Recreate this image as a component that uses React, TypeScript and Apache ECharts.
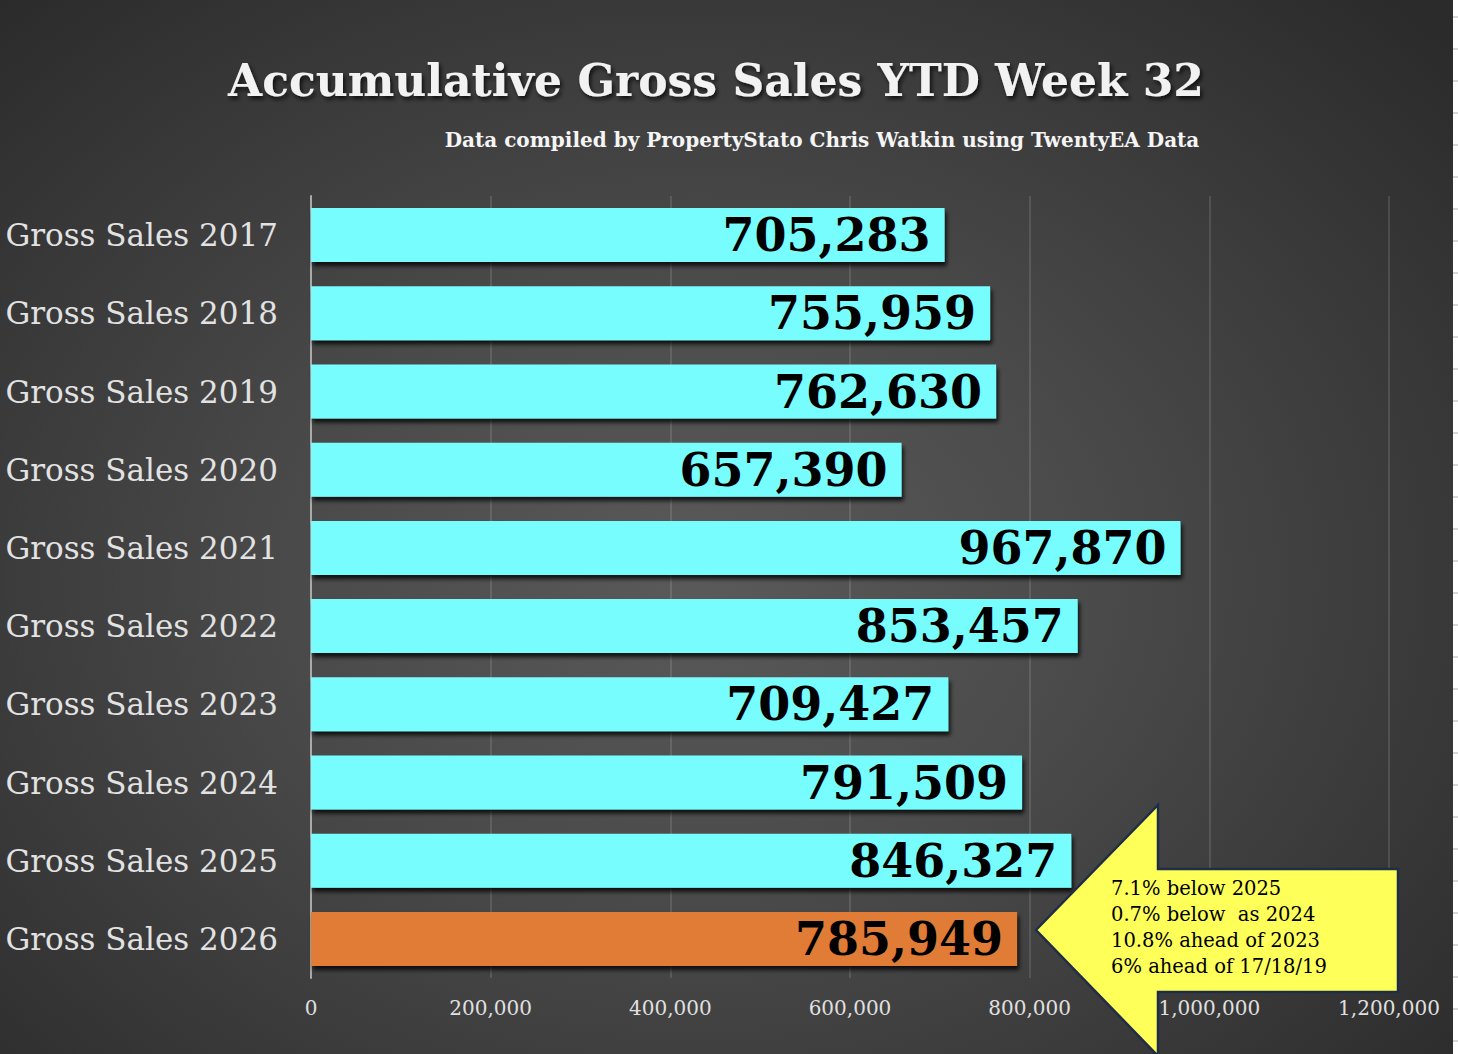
import React, { useEffect, useRef } from "react";
import * as echarts from "echarts";

const categories = [
  "Gross Sales 2017",
  "Gross Sales 2018",
  "Gross Sales 2019",
  "Gross Sales 2020",
  "Gross Sales 2021",
  "Gross Sales 2022",
  "Gross Sales 2023",
  "Gross Sales 2024",
  "Gross Sales 2025",
  "Gross Sales 2026",
];
const values = [705283, 755959, 762630, 657390, 967870, 853457, 709427, 791509, 846327, 785949];
const barColors = [
  "#78FDFF", "#78FDFF", "#78FDFF", "#78FDFF", "#78FDFF",
  "#78FDFF", "#78FDFF", "#78FDFF", "#78FDFF", "#E07C36",
];
const axisMin = 0;
const axisMax = 1200000;
const axisInterval = 200000;
const titleText = "Accumulative Gross Sales YTD Week 32";
const subtitleText = "Data compiled by PropertyStato Chris Watkin using TwentyEA Data";
const calloutLines = [
  "7.1% below 2025",
  "0.7% below  as 2024",
  "10.8% ahead of 2023",
  "6% ahead of 17/18/19",
];

const W = 1458;
const H = 1054;
const FONT = "'DejaVu Serif', 'Liberation Serif', serif";

export default function App() {
  const ref = useRef<HTMLDivElement>(null);

  useEffect(() => {
    if (!ref.current) return;
    const chart = echarts.init(ref.current, null, { renderer: "svg" });

    const marks: any[] = [];
    for (let y = 17; y < H; y += 32) {
      marks.push({
        type: "line",
        shape: { x1: 1453, y1: y, x2: 1458, y2: y },
        style: { stroke: "#cccccc", lineWidth: 1.5 },
        silent: true,
      });
    }

    chart.setOption({
      animation: false,
      backgroundColor: "transparent",
      grid: {
        left: 311,
        right: 69,
        top: 196,
        bottom: 76,
        containLabel: false,
        outerBoundsMode: "none",
      },
      xAxis: {
        type: "value",
        min: axisMin,
        max: axisMax,
        interval: axisInterval,
        axisLine: { show: false },
        axisTick: { show: false },
        splitLine: { show: true, lineStyle: { color: "rgba(255,255,255,0.16)", width: 1.5 } },
        axisLabel: {
          color: "#e0e0e0",
          fontFamily: FONT,
          fontSize: 20,
          margin: 20,
          formatter: (v: number) => v.toLocaleString("en-US"),
        },
      },
      yAxis: {
        type: "category",
        data: categories,
        inverse: true,
        axisTick: { show: false },
        axisLine: { show: true, lineStyle: { color: "#aaaaaa", width: 2 } },
        axisLabel: {
          color: "#e2e2e2",
          fontFamily: FONT,
          fontSize: 31,
          margin: 33,
        },
      },
      series: [
        {
          type: "bar",
          barWidth: 54,
          data: values.map((v, i) => ({ value: v, itemStyle: { color: barColors[i] } })),
          itemStyle: {
            shadowColor: "rgba(0,0,0,0.8)",
            shadowBlur: 4,
            shadowOffsetX: 2,
            shadowOffsetY: 4,
          },
          label: {
            show: true,
            position: "insideRight",
            distance: 14,
            color: "#000000",
            fontFamily: FONT,
            fontWeight: "bold",
            fontSize: 46,
            formatter: (p: any) => Number(p.value).toLocaleString("en-US"),
          },
        },
      ],
      graphic: [
        ...marks,
        {
          type: "text",
          x: 716,
          y: 80,
          style: {
            text: titleText,
            align: "center",
            verticalAlign: "middle",
            fontFamily: FONT,
            fontWeight: "bold",
            fontSize: 44,
            fill: "#f2f2f2",
            textShadowColor: "rgba(0,0,0,0.75)",
            textShadowBlur: 4,
            textShadowOffsetX: 2,
            textShadowOffsetY: 3,
          },
        },
        {
          type: "text",
          x: 822,
          y: 140,
          style: {
            text: subtitleText,
            align: "center",
            verticalAlign: "middle",
            fontFamily: FONT,
            fontWeight: "bold",
            fontSize: 20,
            fill: "#f5f5f5",
          },
        },
        {
          type: "polygon",
          shape: {
            points: [
              [1036, 930],
              [1158, 805],
              [1158, 869],
              [1398, 869],
              [1398, 992],
              [1158, 992],
              [1158, 1056],
            ],
          },
          style: { fill: "#FFFF5A", stroke: "#1f2d4a", lineWidth: 2.5 },
          z: 100,
        },
        {
          type: "text",
          x: 1111,
          y: 875,
          z: 101,
          style: {
            text: calloutLines.join("\n"),
            align: "left",
            verticalAlign: "top",
            lineHeight: 26,
            fontFamily: FONT,
            fontSize: 19.5,
            fill: "#000000",
          },
        },
      ],
    });

    return () => chart.dispose();
  }, []);

  return (
    <div
      style={{
        position: "absolute",
        left: 0,
        top: 0,
        width: W,
        height: H,
        background: "#ffffff",
        overflow: "hidden",
      }}
    >
      <div
        style={{
          position: "absolute",
          left: 0,
          top: 0,
          width: 1453,
          height: H,
          background:
            "radial-gradient(ellipse 70% 75% at 48% 55%, #5a5a5a 0%, #4a4a4a 40%, #383838 75%, #2b2b2b 100%)",
        }}
      />
      <div ref={ref} style={{ position: "absolute", left: 0, top: 0, width: W, height: H }} />
    </div>
  );
}
